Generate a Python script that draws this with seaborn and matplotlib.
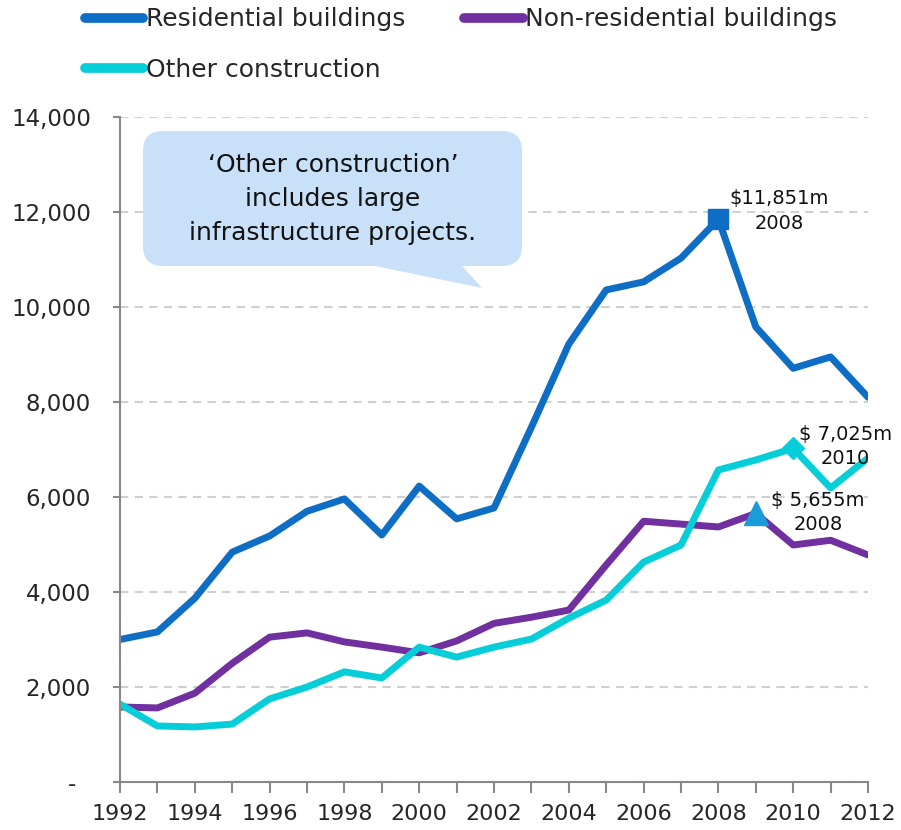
import matplotlib
matplotlib.use("Agg")
import matplotlib.pyplot as plt
from matplotlib.patches import FancyBboxPatch, Polygon
from matplotlib.ticker import FuncFormatter, MultipleLocator
import seaborn as sns

sns.set_theme(style="white")
plt.rcParams['font.family'] = ['DejaVu Sans']

years = list(range(1992, 2013))
residential = [3000, 3160, 3870, 4840, 5180, 5700, 5960, 5200, 6230, 5540, 5770,
               7470, 9220, 10360, 10530, 11030, 11851, 9580, 8710, 8950, 8100]
non_residential = [1580, 1560, 1870, 2500, 3050, 3140, 2950, 2840, 2720, 2970, 3340,
                   3470, 3620, 4570, 5490, 5430, 5370, 5655, 4990, 5090, 4780]
other = [1640, 1180, 1160, 1220, 1750, 2000, 2320, 2190, 2840, 2630, 2840,
         3010, 3450, 3830, 4630, 4990, 6570, 6780, 7025, 6190, 6820]

labels = ["Residential buildings", "Non-residential buildings", "Other construction"]
colors = ["#0E6EC5", "#7030A0", "#06CED8"]

# highlighted points: (series index, year, label text)
peaks = [(0, 2008, "$11,851m\n2008"), (1, 2009, "$ 5,655m\n2008"), (2, 2010, "$ 7,025m\n2010")]
callout = "\u2018Other construction\u2019\nincludes large\ninfrastructure projects."

fig = plt.figure(figsize=(9.01, 8.30), dpi=100)
ax = fig.add_axes([0.1332, 0.0578, 0.8302, 0.8012])

series = [residential, non_residential, other]
for vals, lab, col in zip(series, labels, colors):
    sns.lineplot(x=years, y=vals, color=col, lw=5, label=lab, ax=ax)

markers = ['s', '^', 'D']
mcolors = ["#0E6EC5", "#1A9CD8", "#06CED8"]
msizes = [14, 17, 11]
offsets = [(61, 8), (62, 1), (52, 2)]
for (si, yr, txt), m, mc, ms, off in zip(peaks, markers, mcolors, msizes, offsets):
    i = years.index(yr)
    v = series[si][i]
    ax.plot(yr, v, marker=m, color=mc, ms=ms, ls='none', zorder=5)
    ax.annotate(txt, (yr, v), xytext=off, textcoords='offset pixels',
                ha='center', va='center', fontsize=14, linespacing=1.35, color='#111111')

ax.set_xlim(1992, 2012)
ax.set_ylim(0, 14000)
ax.xaxis.set_major_locator(MultipleLocator(2))
ax.xaxis.set_minor_locator(MultipleLocator(1))
ax.yaxis.set_major_locator(MultipleLocator(2000))
ax.yaxis.set_major_formatter(FuncFormatter(lambda v, p: "-  " if v == 0 else f"{v:,.0f}"))
ax.tick_params(axis='x', which='both', length=8, width=1.5, color='#888888',
               labelsize=16, pad=8, bottom=True)
ax.tick_params(axis='y', length=5, width=1.5, color='#888888', labelsize=16.5, pad=16, left=True)
ax.grid(axis='y', ls=(0, (4, 3)), color='#D0D0D0', lw=1.5)
ax.grid(axis='x', visible=False)
for s in ['top', 'right']:
    ax.spines[s].set_visible(False)
for s in ['left', 'bottom']:
    ax.spines[s].set_color('#888888')
    ax.spines[s].set_linewidth(1.5)
ax.set_xlabel("")
ax.set_ylabel("")

handles, labs = ax.get_legend_handles_labels()
ax.get_legend().remove()
order = [0, 2, 1]
leg = fig.legend([handles[i] for i in order], [labs[i] for i in order],
                 loc='upper left', bbox_to_anchor=(0.094, 0.991), ncol=2, frameon=False,
                 fontsize=18, handlelength=2.35, handletextpad=0.1, columnspacing=2.35,
                 labelspacing=1.05, borderpad=0, borderaxespad=0)
for ln in leg.get_lines():
    ln.set_linewidth(7)
    ln.set_solid_capstyle('round')

# speech bubble
x0, x1, y0, y1 = 143 / 901, 522 / 901, 1 - 266 / 830, 1 - 131 / 830
box = FancyBboxPatch((x0, y0), x1 - x0, y1 - y0, boxstyle="round,pad=0,rounding_size=0.022",
                     mutation_aspect=901 / 830, transform=fig.transFigure,
                     fc='#C9E1F8', ec='none', zorder=10)
tail = Polygon([(363 / 901, y0 + 0.003), (460 / 901, y0 + 0.003), (482 / 901, 1 - 288 / 830)],
               closed=True, transform=fig.transFigure, fc='#C9E1F8', ec='none', zorder=10)
fig.patches.extend([box, tail])
fig.text(333 / 901, 1 - 199 / 830, callout, ha='center', va='center', fontsize=18,
         linespacing=1.55, color='#111111', zorder=11)

fig.savefig("out.png", dpi=100)
